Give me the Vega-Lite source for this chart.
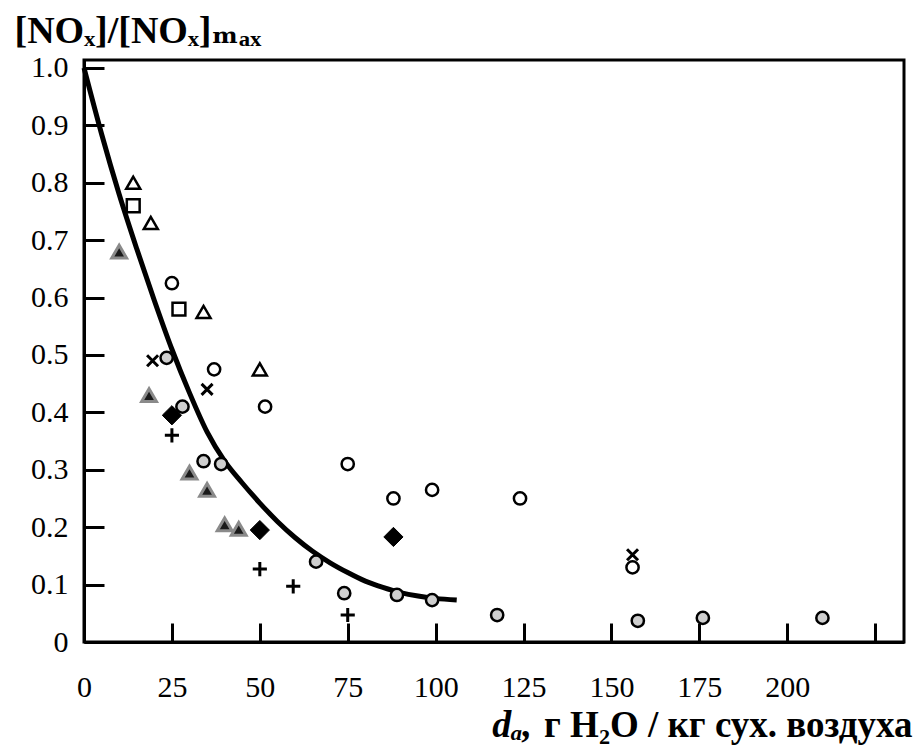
{
  "$schema": "https://vega.github.io/schema/vega-lite/v6.json",
  "width": 820,
  "height": 582,
  "autosize": {"type": "none"},
  "padding": {"left": 84, "top": 60, "right": 12, "bottom": 104},
  "background": "white",
  "config": {
    "view": {"stroke": "black", "strokeWidth": 3},
    "font": "Liberation Serif, Times New Roman, DejaVu Serif, serif"
  },
  "title": {
    "text": "dₐ,",
    "orient": "bottom",
    "anchor": "end",
    "frame": "group",
    "font": "Liberation Serif, Times New Roman, DejaVu Serif, serif",
    "fontStyle": "italic",
    "fontWeight": "bold",
    "fontSize": 38,
    "color": "black",
    "dx": -372,
    "dy": -36,
    "offset": 0
  },
  "datasets": {
    "curve": [
      {"d": 0, "r": 1.0}, {"d": 5, "r": 0.885}, {"d": 10, "r": 0.78}, {"d": 15, "r": 0.685},
      {"d": 20, "r": 0.595}, {"d": 25, "r": 0.51}, {"d": 30, "r": 0.434}, {"d": 35, "r": 0.366},
      {"d": 40, "r": 0.315}, {"d": 45, "r": 0.277}, {"d": 50, "r": 0.242}, {"d": 55, "r": 0.21},
      {"d": 60, "r": 0.182}, {"d": 65, "r": 0.158}, {"d": 70, "r": 0.138}, {"d": 75, "r": 0.121},
      {"d": 80, "r": 0.106}, {"d": 85, "r": 0.095}, {"d": 90, "r": 0.086}, {"d": 95, "r": 0.08},
      {"d": 100, "r": 0.076}, {"d": 106, "r": 0.073}
    ],
    "points": [
      {"series": "open_triangle", "d": 14, "r": 0.80},
      {"series": "open_triangle", "d": 19, "r": 0.73},
      {"series": "open_triangle", "d": 34, "r": 0.575},
      {"series": "open_triangle", "d": 50, "r": 0.475},
      {"series": "open_square", "d": 14, "r": 0.76},
      {"series": "open_square", "d": 27, "r": 0.58},
      {"series": "open_circle", "d": 25, "r": 0.625},
      {"series": "open_circle", "d": 37, "r": 0.475},
      {"series": "open_circle", "d": 51.5, "r": 0.41},
      {"series": "open_circle", "d": 75, "r": 0.31},
      {"series": "open_circle", "d": 88, "r": 0.25},
      {"series": "open_circle", "d": 99, "r": 0.265},
      {"series": "open_circle", "d": 124, "r": 0.25},
      {"series": "open_circle", "d": 156, "r": 0.13},
      {"series": "cross", "d": 19.5, "r": 0.49},
      {"series": "cross", "d": 35, "r": 0.44},
      {"series": "cross", "d": 156, "r": 0.152},
      {"series": "gray_circle", "d": 23.5, "r": 0.495},
      {"series": "gray_circle", "d": 28, "r": 0.41},
      {"series": "gray_circle", "d": 34, "r": 0.315},
      {"series": "gray_circle", "d": 39, "r": 0.31},
      {"series": "gray_circle", "d": 66, "r": 0.14},
      {"series": "gray_circle", "d": 74, "r": 0.085},
      {"series": "gray_circle", "d": 89, "r": 0.082},
      {"series": "gray_circle", "d": 99, "r": 0.073},
      {"series": "gray_circle", "d": 117.5, "r": 0.047},
      {"series": "gray_circle", "d": 157.5, "r": 0.037},
      {"series": "gray_circle", "d": 176, "r": 0.042},
      {"series": "gray_circle", "d": 210, "r": 0.042},
      {"series": "diamond", "d": 25, "r": 0.395},
      {"series": "diamond", "d": 50, "r": 0.195},
      {"series": "diamond", "d": 88, "r": 0.183},
      {"series": "plus", "d": 25, "r": 0.36},
      {"series": "plus", "d": 50, "r": 0.127},
      {"series": "plus", "d": 59.5, "r": 0.097},
      {"series": "plus", "d": 75, "r": 0.047},
      {"series": "gray_triangle", "d": 10, "r": 0.68},
      {"series": "gray_triangle", "d": 18.5, "r": 0.43},
      {"series": "gray_triangle", "d": 30, "r": 0.295},
      {"series": "gray_triangle", "d": 35, "r": 0.265},
      {"series": "gray_triangle", "d": 40, "r": 0.205},
      {"series": "gray_triangle", "d": 44, "r": 0.197}
    ]
  },
  "encoding": {
    "x": {
      "field": "d",
      "type": "quantitative",
      "scale": {"domain": [0, 233.2], "nice": false, "zero": false},
      "axis": {
        "title": "г H₂O / кг сух. воздуха",
        "values": [0, 25, 50, 75, 100, 125, 150, 175, 200, 225],
        "labelExpr": "datum.value > 200 ? '' : datum.label",
        "grid": false,
        "tickSize": -19,
        "tickWidth": 3,
        "tickColor": "black",
        "domainWidth": 3,
        "domainColor": "black",
        "labelFont": "Liberation Serif, Times New Roman, DejaVu Serif, serif",
        "labelFontSize": 30,
        "labelColor": "black",
        "labelPadding": 49,
        "labelFlush": false,
        "labelOverlap": false,
        "titleFont": "Liberation Serif, Times New Roman, DejaVu Serif, serif",
        "titleFontWeight": "bold",
        "titleFontSize": 37,
        "titleColor": "black",
        "titleAnchor": "end",
        "titleAlign": "right",
        "titleBaseline": "alphabetic",
        "titleX": 828,
        "titleY": 94
      }
    },
    "y": {
      "field": "r",
      "type": "quantitative",
      "scale": {"domain": [0, 1.0139], "nice": false, "zero": false},
      "axis": {
        "title": "[NOₓ]/[NOₓ]ₘₐₓ",
        "values": [0, 0.1, 0.2, 0.3, 0.4, 0.5, 0.6, 0.7, 0.8, 0.9, 1.0],
        "labelExpr": "datum.value == 0 ? '0' : format(datum.value, '.1f')",
        "grid": false,
        "tickSize": -20,
        "tickWidth": 3,
        "tickColor": "black",
        "domainWidth": 3,
        "domainColor": "black",
        "labelFont": "Liberation Serif, Times New Roman, DejaVu Serif, serif",
        "labelFontSize": 30,
        "labelColor": "black",
        "labelPadding": 36,
        "labelFlush": false,
        "labelOverlap": false,
        "titleFont": "Liberation Serif, Times New Roman, DejaVu Serif, serif",
        "titleFontWeight": "bold",
        "titleFontSize": 38,
        "titleColor": "black",
        "titleAngle": 0,
        "titleAlign": "left",
        "titleBaseline": "alphabetic",
        "titleX": -70,
        "titleY": -18
      }
    }
  },
  "layer": [
    {
      "data": {"name": "curve"},
      "mark": {"type": "line", "color": "black", "strokeWidth": 5, "interpolate": "monotone"}
    },
    {
      "data": {"name": "points"},
      "transform": [{"filter": "datum.series == 'open_triangle'"}],
      "mark": {"type": "point", "shape": "triangle-up", "size": 196, "filled": true, "fill": "white", "stroke": "black", "strokeWidth": 2.5, "opacity": 1}
    },
    {
      "data": {"name": "points"},
      "transform": [{"filter": "datum.series == 'open_square'"}],
      "mark": {"type": "point", "shape": "square", "size": 165, "filled": true, "fill": "white", "stroke": "black", "strokeWidth": 2.5, "opacity": 1}
    },
    {
      "data": {"name": "points"},
      "transform": [{"filter": "datum.series == 'open_circle'"}],
      "mark": {"type": "point", "shape": "circle", "size": 150, "filled": true, "fill": "white", "stroke": "black", "strokeWidth": 2.5, "opacity": 1}
    },
    {
      "data": {"name": "points"},
      "transform": [{"filter": "datum.series == 'gray_circle'"}],
      "mark": {"type": "point", "shape": "circle", "size": 150, "filled": true, "fill": "#cfcfcf", "stroke": "black", "strokeWidth": 2.5, "opacity": 1}
    },
    {
      "data": {"name": "points"},
      "transform": [{"filter": "datum.series == 'cross'"}],
      "mark": {"type": "point", "shape": "M-1,-1L1,1M1,-1L-1,1", "size": 121, "filled": false, "stroke": "black", "strokeWidth": 3, "opacity": 1}
    },
    {
      "data": {"name": "points"},
      "transform": [{"filter": "datum.series == 'plus'"}],
      "mark": {"type": "point", "shape": "M-1,0L1,0M0,-1L0,1", "size": 200, "filled": false, "stroke": "black", "strokeWidth": 3, "opacity": 1}
    },
    {
      "data": {"name": "points"},
      "transform": [{"filter": "datum.series == 'diamond'"}],
      "mark": {"type": "point", "shape": "diamond", "size": 370, "filled": true, "fill": "black", "stroke": "black", "strokeWidth": 1, "opacity": 1}
    },
    {
      "data": {"name": "points"},
      "transform": [{"filter": "datum.series == 'gray_triangle'"}],
      "mark": {"type": "point", "shape": "triangle-up", "size": 220, "filled": true, "fill": "#1a1a1a", "stroke": "#8a8a8a", "strokeWidth": 3, "opacity": 1}
    }
  ]
}
